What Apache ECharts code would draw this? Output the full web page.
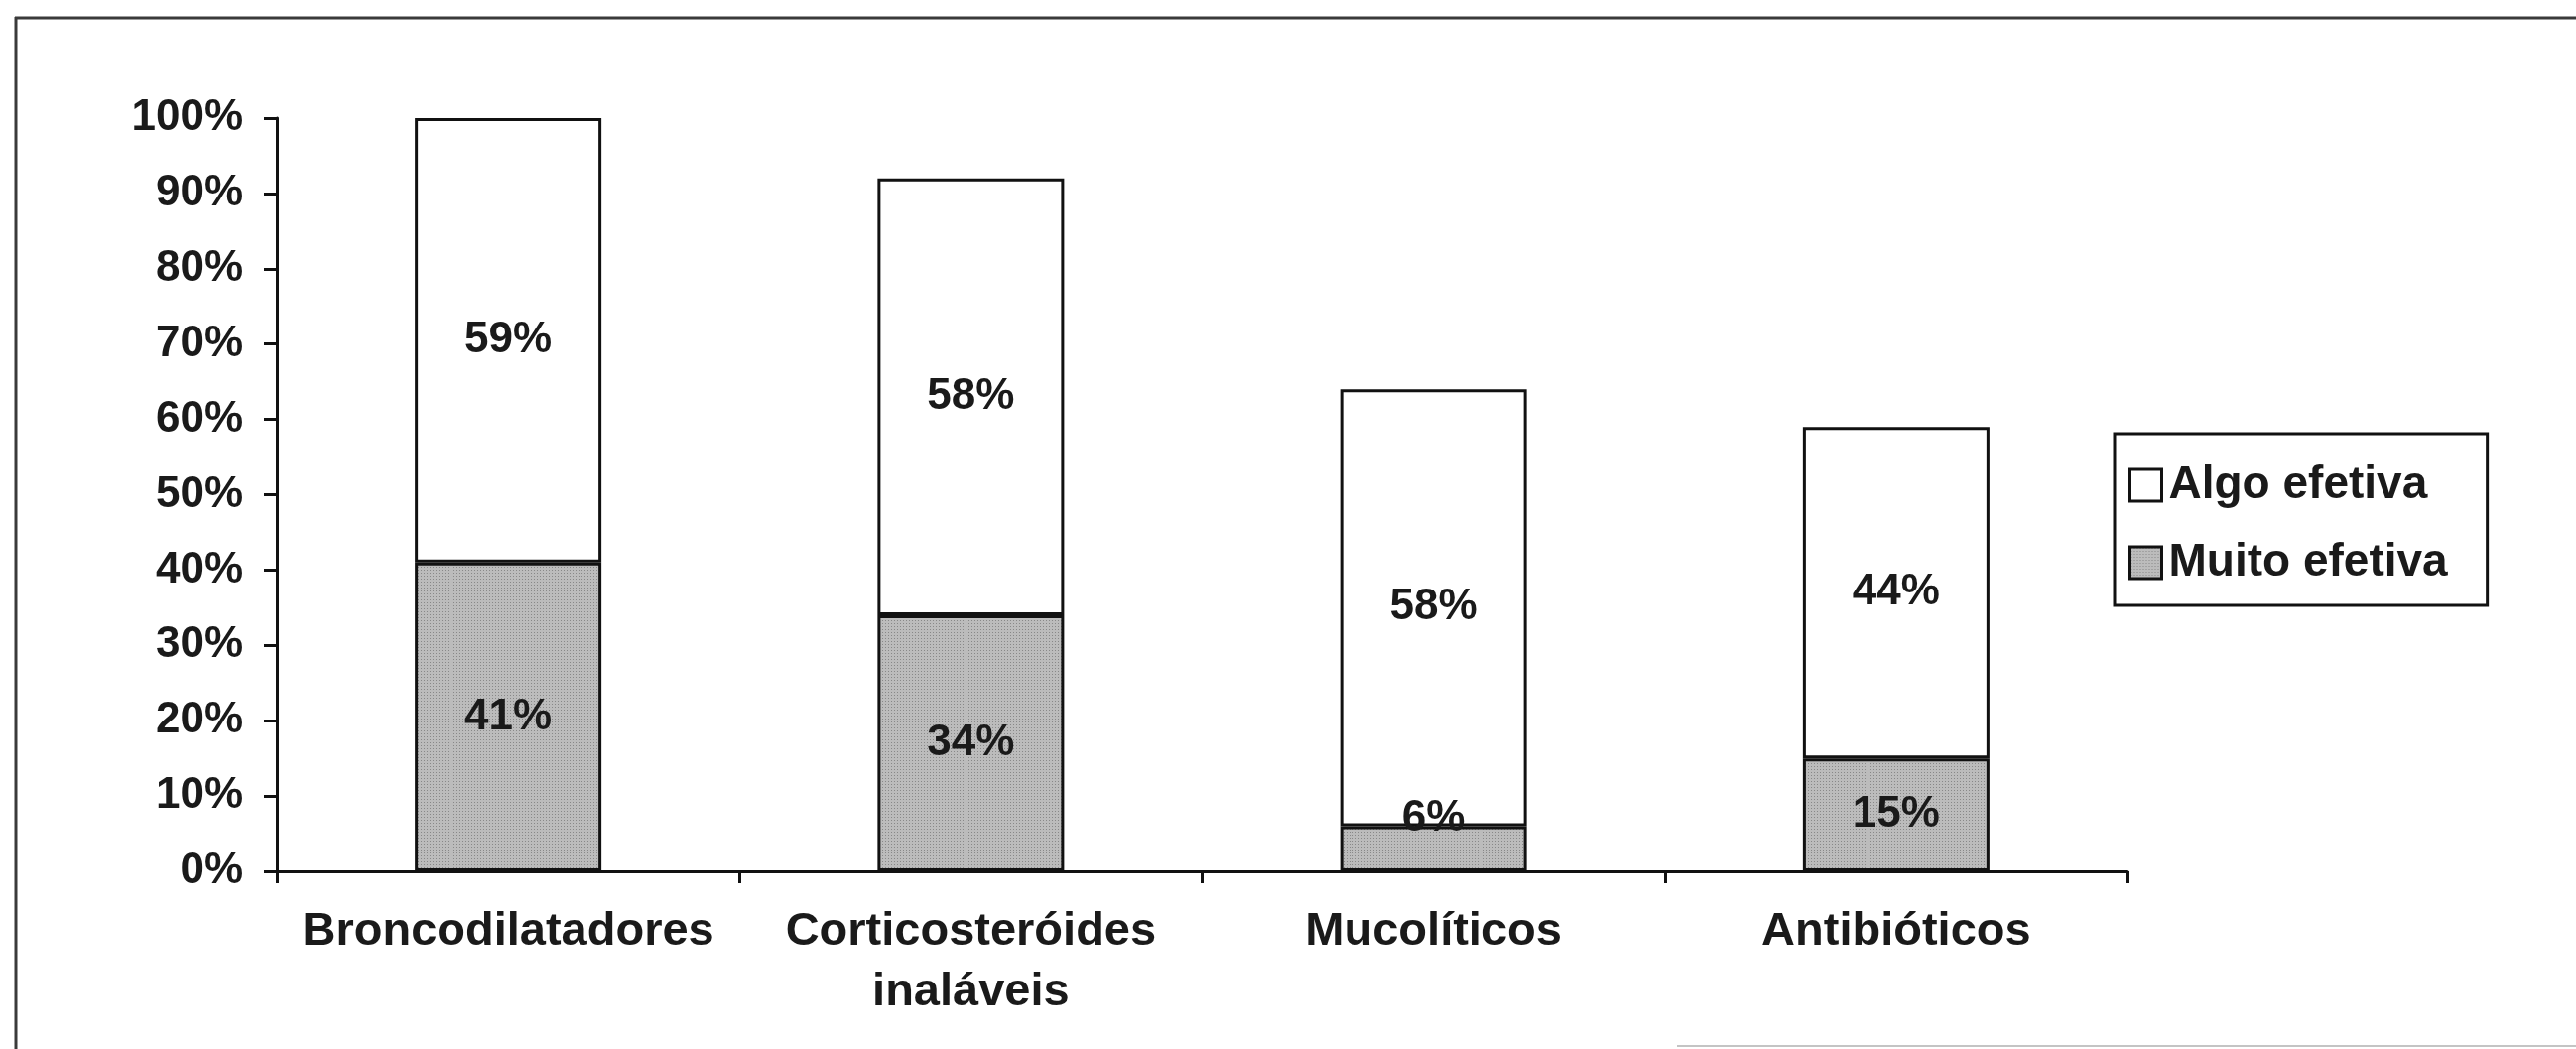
<!DOCTYPE html>
<html>
<head>
<meta charset="utf-8">
<style>
  html, body { margin: 0; padding: 0; background: #ffffff; }
  #chart { width: 2596px; height: 1057px; }
</style>
<script src="https://cdn.jsdelivr.net/npm/echarts@6/dist/echarts.min.js"></script>
</head>
<body>
<div id="chart"></div>
<script>
// Perceived effectiveness of each drug class (percent of respondents)
const categories = ['Broncodilatadores', 'Corticosteróides\ninaláveis', 'Mucolíticos', 'Antibióticos'];
const muitoEfetiva = [41, 34, 6, 15];
const algoEfetiva = [59, 58, 58, 44];
const seriesNames = ['Muito efetiva', 'Algo efetiva'];
const legendOrder = ['Algo efetiva', 'Muito efetiva'];

const FONT = "'Liberation Sans', Arial, Helvetica, sans-serif";
const INK = '#1a1a1a';

// Halftone-like grey fill for the "Muito efetiva" segments
function dotPattern() {
  const c = document.createElement('canvas');
  c.width = 3; c.height = 3;
  const g = c.getContext('2d');
  g.fillStyle = '#bcbcbc';
  g.fillRect(0, 0, 3, 3);
  g.fillStyle = '#888888';
  g.fillRect(1, 1, 1, 1);
  return c;
}
const greyFill = { image: dotPattern(), repeat: 'repeat' };

const labelBase = {
  show: true,
  formatter: '{c}%',
  fontFamily: FONT,
  fontWeight: 'bold',
  fontSize: 44,
  color: INK
};

// Small segments carry their label sitting on the segment's top edge
const muitoData = muitoEfetiva.map(v => v < 10
  ? { value: v, label: { position: 'top', distance: -14 } }
  : v);

const chart = echarts.init(document.getElementById('chart'), null, { renderer: 'canvas' });

chart.setOption({
  animation: false,
  backgroundColor: '#ffffff',
  grid: { left: 279, right: 452, top: 119, bottom: 179, containLabel: false },
  legend: {
    orient: 'vertical',
    left: 2131,
    top: 437,
    padding: [29, 40, 20, 14],
    itemGap: 32,
    itemWidth: 32,
    itemHeight: 32,
    itemStyle: { borderColor: '#111', borderWidth: 3 },
    borderColor: '#111',
    borderWidth: 3,
    backgroundColor: '#ffffff',
    textStyle: { fontFamily: FONT, fontWeight: 'bold', fontSize: 46, color: INK, padding: [0, 0, 0, 2] },
    data: legendOrder.map(name => ({ name: name, icon: 'rect' })),
    selectedMode: false
  },
  xAxis: {
    type: 'category',
    data: categories,
    boundaryGap: true,
    axisLine: { lineStyle: { color: '#111', width: 3 } },
    axisTick: { show: true, inside: false, length: 12, lineStyle: { color: '#111', width: 3 } },
    axisLabel: {
      interval: 0,
      margin: 31,
      fontFamily: FONT,
      fontWeight: 'bold',
      fontSize: 47,
      lineHeight: 61,
      color: INK
    },
    splitLine: { show: false }
  },
  yAxis: {
    type: 'value',
    min: 0,
    max: 100,
    interval: 10,
    axisLine: { show: true, lineStyle: { color: '#111', width: 3 } },
    axisTick: { show: true, inside: false, length: 13, lineStyle: { color: '#111', width: 3 } },
    axisLabel: {
      formatter: '{value}%',
      margin: 34,
      fontFamily: FONT,
      fontWeight: 'bold',
      fontSize: 44,
      color: INK
    },
    splitLine: { show: false }
  },
  series: [
    {
      name: seriesNames[0],
      type: 'bar',
      stack: 'total',
      barWidth: 188,
      data: muitoData,
      itemStyle: { color: greyFill, borderColor: '#111', borderWidth: 3 },
      label: Object.assign({ position: 'inside' }, labelBase)
    },
    {
      name: seriesNames[1],
      type: 'bar',
      stack: 'total',
      barWidth: 188,
      data: algoEfetiva,
      itemStyle: { color: '#ffffff', borderColor: '#111', borderWidth: 3 },
      label: Object.assign({ position: 'inside' }, labelBase)
    }
  ],
  graphic: [
    // frame around the figure (top and left edges, faint bottom edge)
    { type: 'line', silent: true, shape: { x1: 16, y1: 17, x2: 16, y2: 1057 }, style: { stroke: '#3a3a3a', lineWidth: 3 } },
    { type: 'line', silent: true, shape: { x1: 15, y1: 18, x2: 2596, y2: 18 }, style: { stroke: '#3a3a3a', lineWidth: 3 } },
    { type: 'line', silent: true, shape: { x1: 1690, y1: 1054, x2: 2596, y2: 1054 }, style: { stroke: '#c4c4c4', lineWidth: 2 } }
  ]
});
</script>
</body>
</html>
